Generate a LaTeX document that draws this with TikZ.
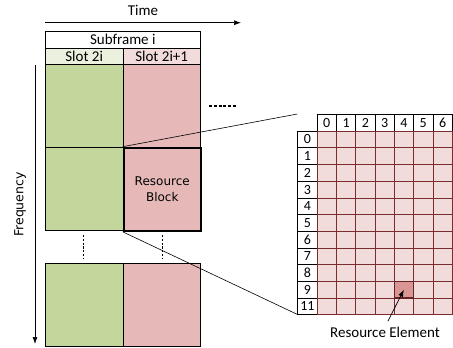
\documentclass[tikz,border=0pt]{standalone}
\usepackage{fontspec}
\setmainfont{Carlito}
\newfontfamily\dejavu{DejaVu Sans}
\usetikzlibrary{arrows.meta}
\definecolor{gfill}{HTML}{C3D69B}
\definecolor{rfill}{HTML}{E6B9B8}
\definecolor{gslot}{HTML}{EBF1DE}
\definecolor{rslot}{HTML}{F2DCDB}
\definecolor{cellfill}{HTML}{F2DCDB}
\definecolor{cellline}{HTML}{7B2C2C}
\definecolor{refill}{HTML}{D99694}
\definecolor{reline}{HTML}{632523}
\begin{document}
\begin{tikzpicture}[x=1pt,y=-1pt,
  blk/.style={draw=black, line width=0.6pt},
  hdr/.style={draw=black, line width=0.8pt, fill=white, minimum width=19.3pt, minimum height=16.7pt, inner sep=0pt, font=\fontsize{14}{15}\selectfont},
  cell/.style={draw=cellline, line width=0.7pt, fill=cellfill, minimum width=19.3pt, minimum height=16.7pt, inner sep=0pt},
  lbl/.style={font=\fontsize{15}{17}\selectfont, inner sep=0pt}]
\useasboundingbox (0,0) rectangle (453,348);
% time arrow
\node[lbl] (time) at (143,10) {Time};
\coordinate (t0) at (45,22.7);
\coordinate (t1) at (241,22.7);
\draw[-{Latex[length=7pt,width=5pt]}, line width=0.7pt] (t0) -- (t1);
% frequency arrow
\coordinate (f0) at (35,65);
\coordinate (f1) at (35,344);
\draw[-{Latex[length=7pt,width=5pt]}, line width=0.7pt] (f0) -- (f1);
\node[font=\dejavu\fontsize{12.5}{14}\selectfont, rotate=90, inner sep=0pt] (freq) at (20,204.5) {Frequency};
% subframe
\node[blk, fill=white, minimum width=155pt, minimum height=16.7pt, anchor=north west, inner sep=0pt, lbl] (sub) at (45,31) {Subframe i};
\node[blk, fill=gslot, minimum width=77.7pt, minimum height=16.3pt, anchor=north west, inner sep=0pt, lbl] (s1) at (45,47.7) {Slot 2i};
\node[blk, fill=rslot, minimum width=77.3pt, minimum height=16.3pt, anchor=north west, inner sep=0pt, lbl] (s2) at (122.7,47.7) {Slot 2i+1};
% blocks
\node[blk, fill=gfill, minimum width=77.7pt, minimum height=82.7pt, anchor=north west] (g1) at (45,64) {};
\node[blk, fill=rfill, minimum width=77.3pt, minimum height=82.7pt, anchor=north west] (r1) at (122.7,64) {};
\node[blk, fill=gfill, minimum width=77.7pt, minimum height=83.3pt, anchor=north west] (g2) at (45,146.7) {};
\node[draw=black, line width=1.8pt, fill=rfill, minimum width=77.3pt, minimum height=83.3pt, anchor=north west, align=center, font=\dejavu\fontsize{12}{16}\selectfont] (rb) at (122.7,146.7) {Resource\\Block};
\node[blk, fill=gfill, minimum width=77.7pt, minimum height=82.7pt, anchor=north west] (g3) at (45,263.3) {};
\node[blk, fill=rfill, minimum width=77.3pt, minimum height=82.7pt, anchor=north west] (r3) at (122.7,263.3) {};
% dots
\coordinate (d1a) at (83.3,235); \coordinate (d1b) at (83.3,258);
\coordinate (d2a) at (162.3,235); \coordinate (d2b) at (162.3,258);
\draw[line width=1.5pt, dash pattern=on 2.2pt off 1.6pt] (d1a) -- (d1b);
\draw[line width=1.5pt, dash pattern=on 2.2pt off 1.6pt] (d2a) -- (d2b);
\coordinate (h1) at (209,106); \coordinate (h2) at (237,106);
\draw[line width=1.2pt, dash pattern=on 3pt off 1.8pt] (h1) -- (h2);
% grid
\foreach \c in {0,...,6} {
  \node[hdr, anchor=north west] (ch\c) at ({316.7+19.3*\c},114) {\c};
}
\foreach \r/\t in {0/0,1/1,2/2,3/3,4/4,5/5,6/6,7/7,8/8,9/9,10/11} {
  \node[hdr, anchor=north west] (rh\r) at (297.3,{130.7+16.7*\r}) {\t};
  \foreach \c in {0,...,6} {
    \node[cell, anchor=north west] (c\r-\c) at ({316.7+19.3*\c},{130.7+16.7*\r}) {};
  }
}
\node[draw=reline, line width=1.5pt, fill=refill, minimum width=19.3pt, minimum height=16.7pt, inner sep=0pt] (re) at (c9-4.center) {};
\coordinate (gridtl) at (297.3,114);
\coordinate (gridbl) at (297.3,314.4);
% zoom lines
\draw[line width=0.6pt] (rb.north west) -- (gridtl);
\draw[line width=0.6pt] (rb.south west) -- (gridbl);
% resource element label
\node[lbl] (relbl) at (385,332.7) {Resource Element};
\coordinate (reatail) at (388,321);
\draw[-{Latex[length=7pt,width=5pt]}, line width=0.7pt] (reatail) -- (re.center);
\end{tikzpicture}
\end{document}
